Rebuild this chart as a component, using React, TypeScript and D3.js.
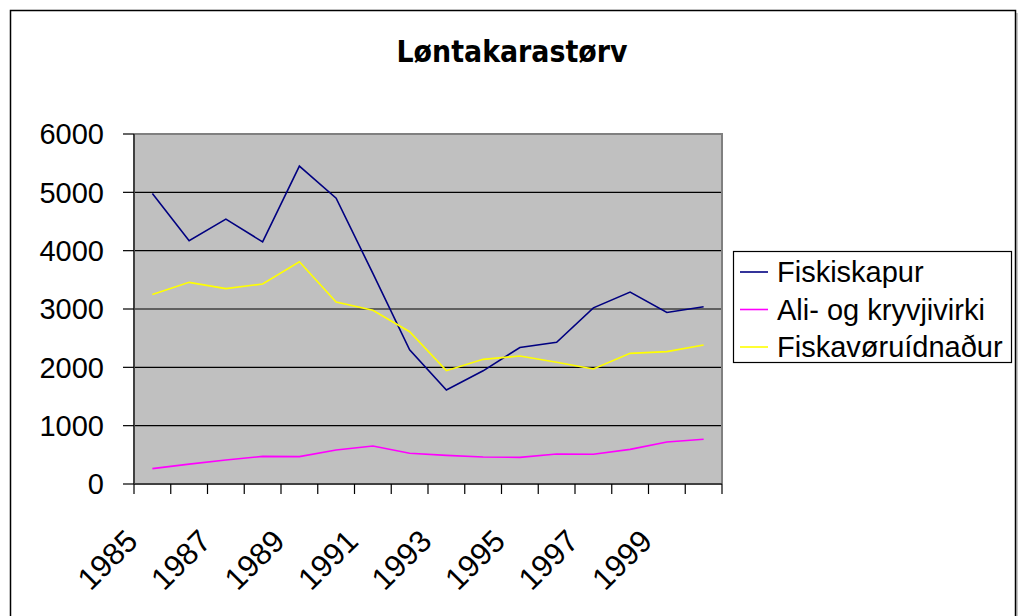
import React, { useEffect, useRef } from "react";
import * as d3 from "d3";

const years = [
  "1985", "1986", "1987", "1988", "1989", "1990", "1991", "1992",
  "1993", "1994", "1995", "1996", "1997", "1998", "1999", "2000",
];
const fiskiskapur = [
  4980, 4170, 4540, 4150, 5450, 4900, 3610, 2300,
  1610, 1940, 2340, 2430, 3020, 3290, 2940, 3040,
];
const aliOgKryvjivirki = [
  263, 340, 411, 474, 469, 583, 651, 526,
  490, 463, 457, 514, 509, 594, 720, 766,
];
const fiskavoruidnadur = [
  3250, 3457, 3349, 3429, 3811, 3120, 2977, 2611,
  1943, 2137, 2194, 2086, 1971, 2240, 2269, 2383,
];
const yTicks = [0, 1000, 2000, 3000, 4000, 5000, 6000];
const xTickLabels = ["1985", "1987", "1989", "1991", "1993", "1995", "1997", "1999"];

const series = [
  { name: "Fiskiskapur", values: fiskiskapur, color: "#000080" },
  { name: "Ali- og kryvjivirki", values: aliOgKryvjivirki, color: "#FF00FF" },
  { name: "Fiskavøruídnaður", values: fiskavoruidnadur, color: "#FFFF00" },
];

const App: React.FC = () => {
  const svgRef = useRef<SVGSVGElement>(null);
  const width = 1019;
  const height = 616;

  useEffect(() => {
    if (!svgRef.current) return;
    const svg = d3.select(svgRef.current);
    svg.selectAll("*").remove();

    const plot = { left: 134, right: 722, top: 134, bottom: 484 };

    // outer chart border with a light shadow on the right
    svg.append("line")
      .attr("x1", 1017).attr("x2", 1017).attr("y1", 13).attr("y2", height)
      .attr("stroke", "#c8c8c8").attr("stroke-width", 2);
    svg.append("rect")
      .attr("x", 10.5).attr("y", 10.5)
      .attr("width", 1005).attr("height", height + 10)
      .attr("fill", "white").attr("stroke", "black").attr("stroke-width", 1.5);

    // title
    svg.append("text")
      .attr("x", 512).attr("y", 62)
      .attr("text-anchor", "middle")
      .attr("textLength", 231)
      .attr("lengthAdjust", "spacingAndGlyphs")
      .style("font-family", "DejaVu Sans, Verdana, sans-serif")
      .style("font-size", "30px")
      .style("font-weight", "bold")
      .text("Løntakarastørv");

    const xScale = d3.scaleBand<string>()
      .domain(years)
      .range([plot.left, plot.right]);

    const yScale = d3.scaleLinear()
      .domain([0, 6000])
      .range([plot.bottom, plot.top]);

    // plot background
    svg.append("rect")
      .attr("x", plot.left).attr("y", plot.top)
      .attr("width", plot.right - plot.left)
      .attr("height", plot.bottom - plot.top)
      .attr("fill", "#C0C0C0");

    // gridlines
    svg.selectAll(".grid")
      .data(yTicks.filter((t) => t > 0 && t < 6000))
      .enter()
      .append("line")
      .attr("x1", plot.left).attr("x2", plot.right)
      .attr("y1", (d) => yScale(d)).attr("y2", (d) => yScale(d))
      .attr("stroke", "black").attr("stroke-width", 1.2);

    // plot frame top and right
    svg.append("path")
      .attr("d", `M${plot.left},${plot.top}H${plot.right}V${plot.bottom}`)
      .attr("fill", "none").attr("stroke", "#808080").attr("stroke-width", 2);

    // y axis
    svg.append("line")
      .attr("x1", plot.left).attr("x2", plot.left)
      .attr("y1", plot.top).attr("y2", plot.bottom)
      .attr("stroke", "#404040").attr("stroke-width", 2);
    svg.selectAll(".ytick")
      .data(yTicks)
      .enter()
      .append("line")
      .attr("x1", plot.left - 11).attr("x2", plot.left)
      .attr("y1", (d) => yScale(d)).attr("y2", (d) => yScale(d))
      .attr("stroke", "black").attr("stroke-width", 1.2);
    svg.selectAll(".ylabel")
      .data(yTicks)
      .enter()
      .append("text")
      .attr("x", 104)
      .attr("y", (d) => yScale(d))
      .attr("dy", "0.36em")
      .attr("text-anchor", "end")
      .style("font-family", "Liberation Sans, Arial, sans-serif")
      .style("font-size", "29px")
      .text((d) => String(d));

    // x axis
    svg.append("line")
      .attr("x1", plot.left).attr("x2", plot.right)
      .attr("y1", plot.bottom).attr("y2", plot.bottom)
      .attr("stroke", "#404040").attr("stroke-width", 2);
    const boundaries = years.map((y) => xScale(y) as number).concat([plot.right]);
    svg.selectAll(".xtick")
      .data(boundaries)
      .enter()
      .append("line")
      .attr("x1", (d) => d).attr("x2", (d) => d)
      .attr("y1", plot.bottom).attr("y2", plot.bottom + 10)
      .attr("stroke", "black").attr("stroke-width", 1.2);
    svg.selectAll(".xlabel")
      .data(xTickLabels)
      .enter()
      .append("text")
      .attr("transform", (d) => {
        const cx = (xScale(d) as number) + xScale.bandwidth() / 2 - 13;
        return `translate(${cx},543) rotate(-45)`;
      })
      .attr("text-anchor", "end")
      .style("font-family", "Liberation Sans, Arial, sans-serif")
      .style("font-size", "31px")
      .text((d) => d);

    // lines
    const line = d3.line<number>()
      .x((_, i) => (xScale(years[i]) as number) + xScale.bandwidth() / 2)
      .y((d) => yScale(d));

    series.forEach((s) => {
      svg.append("path")
        .datum(s.values)
        .attr("d", line)
        .attr("fill", "none")
        .attr("stroke", s.color)
        .attr("stroke-width", 1.6)
        .attr("stroke-linejoin", "miter");
    });

    // legend
    const lg = svg.append("g");
    lg.append("rect")
      .attr("x", 733.5).attr("y", 251.5)
      .attr("width", 278).attr("height", 111)
      .attr("fill", "white").attr("stroke", "black").attr("stroke-width", 1.2);
    series.forEach((s, i) => {
      const base = 282 + i * 37.5;
      lg.append("line")
        .attr("x1", 740).attr("x2", 768)
        .attr("y1", base - 10).attr("y2", base - 10)
        .attr("stroke", s.color).attr("stroke-width", 1.6);
      lg.append("text")
        .attr("x", 777).attr("y", base)
        .style("font-family", "Liberation Sans, Arial, sans-serif")
        .style("font-size", "29px")
        .text(s.name);
    });
  }, []);

  return (
    <svg
      ref={svgRef}
      width={width}
      height={height}
      style={{ position: "absolute", left: 0, top: 0, display: "block" }}
    />
  );
};

export default App;
